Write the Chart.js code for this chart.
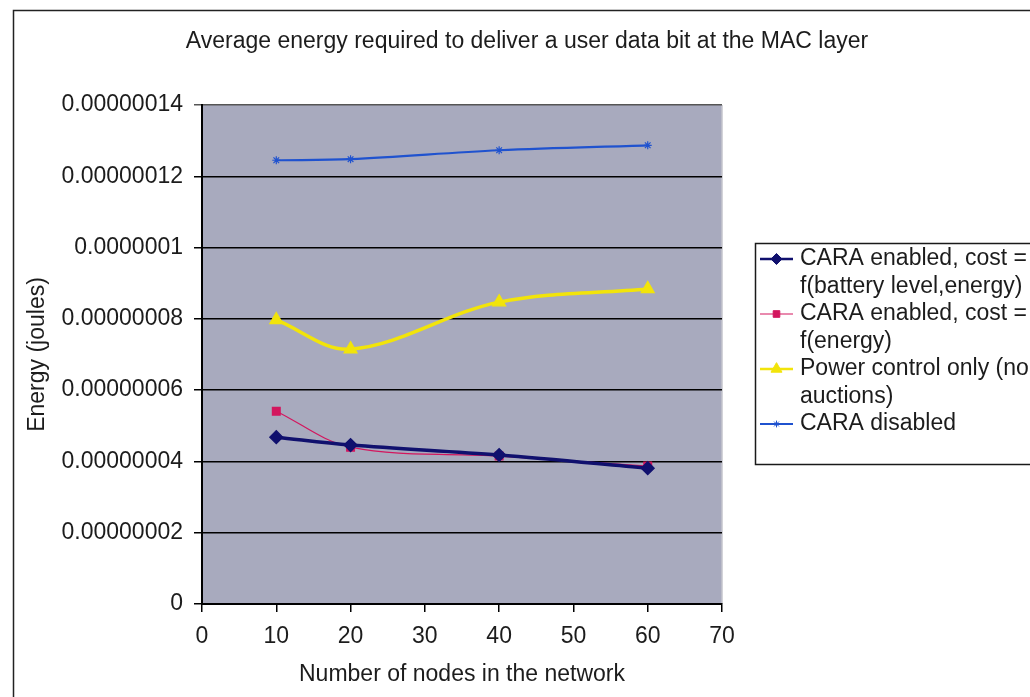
<!DOCTYPE html>
<html>
<head>
<meta charset="utf-8">
<script src="https://cdn.jsdelivr.net/npm/chart.js@4.4.1/dist/chart.umd.min.js"></script>
<style>
  html, body { margin: 0; padding: 0; background: #ffffff; }
  #wrap { width: 1030px; height: 697px; position: relative; }
</style>
</head>
<body>
<div id="wrap"><canvas id="c" width="1030" height="697"></canvas></div>
<script>
// Number of nodes in the network (x values)
const nodeCounts = [10, 20, 40, 60];

// Average energy per delivered user data bit (joules)
const caraBatteryEnergy = [4.68e-8, 4.46e-8, 4.18e-8, 3.81e-8];
const caraEnergy        = [5.41e-8, 4.40e-8, 4.15e-8, 3.87e-8];
const powerControlOnly  = [7.97e-8, 7.15e-8, 8.47e-8, 8.84e-8];
const caraDisabled      = [1.245e-7, 1.248e-7, 1.273e-7, 1.287e-7];

const seriesNames = [
  'CARA enabled, cost = f(battery level,energy)',
  'CARA enabled, cost = f(energy)',
  'Power control only (no auctions)',
  'CARA disabled'
];
const legendLines = [
  ['CARA enabled, cost =', 'f(battery level,energy)'],
  ['CARA enabled, cost =', 'f(energy)'],
  ['Power control only (no', 'auctions)'],
  ['CARA disabled']
];

const yTickLabels = ['0', '0.00000002', '0.00000004', '0.00000006', '0.00000008', '0.0000001', '0.00000012', '0.00000014'];
const xTickLabels = ['0', '10', '20', '30', '40', '50', '60', '70'];

const chartTitle = 'Average energy required to deliver a user data bit at the MAC layer';
const xAxisTitle = 'Number of nodes in the network';
const yAxisTitle = 'Energy (joules)';

const FONT = "'Liberation Sans', Arial, sans-serif";
const FONT_SIZE = 23;
const TEXT = '#1c1c1c';

function pts(values) {
  return nodeCounts.map((x, i) => ({ x: x, y: values[i] }));
}

// Plot background, outer frame and title
const framePlugin = {
  id: 'frame',
  beforeDraw(chart) {
    const { ctx, chartArea: a } = chart;
    ctx.save();
    ctx.fillStyle = '#ffffff';
    ctx.fillRect(0, 0, chart.width, chart.height);
    ctx.fillStyle = '#a8aabe';
    ctx.fillRect(a.left, a.top, a.right - a.left, a.bottom - a.top);
    ctx.strokeStyle = '#c4c4cc';
    ctx.lineWidth = 1.5;
    ctx.beginPath();
    ctx.moveTo(a.right, a.top);
    ctx.lineTo(a.right, a.bottom);
    ctx.stroke();
    ctx.strokeStyle = '#222';
    ctx.lineWidth = 1.5;
    ctx.strokeRect(13.5, 10.5, 1200, 900);
    ctx.fillStyle = TEXT;
    ctx.font = FONT_SIZE + 'px ' + FONT;
    ctx.textAlign = 'center';
    ctx.textBaseline = 'middle';
    ctx.fillText(chartTitle, 527, 42);
    ctx.restore();
  }
};

// Legend box with two-line wrapped entries
const boxLegendPlugin = {
  id: 'boxLegend',
  afterDraw(chart) {
    const { ctx } = chart;
    const left = 755, top = 243, bottom = 464;
    ctx.save();
    ctx.fillStyle = '#ffffff';
    ctx.fillRect(left, top, 400, bottom - top);
    ctx.strokeStyle = '#1a1a1a';
    ctx.lineWidth = 1.5;
    ctx.strokeRect(left + 0.5, top + 0.5, 400, bottom - top);
    const lineH = 27.5;
    let y = 259;
    chart.data.datasets.forEach((ds, i) => {
      ctx.strokeStyle = ds.borderColor;
      ctx.lineWidth = Math.min(ds.borderWidth, 2.5);
      ctx.beginPath();
      ctx.moveTo(760, y);
      ctx.lineTo(793, y);
      ctx.stroke();
      ctx.fillStyle = ds.backgroundColor;
      ctx.lineWidth = 1;
      Chart.helpers.drawPoint(ctx, {
        pointStyle: ds.pointStyle,
        radius: ds.pointRadius * 0.85,
        rotation: 0,
        borderWidth: 1
      }, 776.5, y);
      ctx.fillStyle = TEXT;
      ctx.font = FONT_SIZE + 'px ' + FONT;
      ctx.textAlign = 'left';
      ctx.textBaseline = 'middle';
      legendLines[i].forEach((t, k) => ctx.fillText(t, 800, y + k * lineH));
      y += legendLines[i].length * lineH;
    });
    ctx.restore();
  }
};

const series = [
  { label: seriesNames[0], data: pts(caraBatteryEnergy), borderColor: '#10106e', backgroundColor: '#10106e',
    borderWidth: 3.5, pointStyle: 'rectRot', pointRadius: 6.5 },
  { label: seriesNames[1], data: pts(caraEnergy), borderColor: '#d3165e', backgroundColor: '#d3165e',
    borderWidth: 1.2, pointStyle: 'rect', pointRadius: 5.5 },
  { label: seriesNames[2], data: pts(powerControlOnly), borderColor: '#f2e40a', backgroundColor: '#f2e40a',
    borderWidth: 3.5, pointStyle: 'triangle', pointRadius: 7.5 },
  { label: seriesNames[3], data: pts(caraDisabled), borderColor: '#1f52cf', backgroundColor: '#1f52cf',
    borderWidth: 2.2, pointStyle: 'star', pointRadius: 4 }
];

new Chart(document.getElementById('c'), {
  type: 'line',
  data: {
    datasets: series.map(s => Object.assign({
      tension: 0.35,
      fill: false,
      pointBorderColor: s.borderColor,
      pointBorderWidth: 1.2
    }, s))
  },
  options: {
    responsive: false,
    animation: false,
    devicePixelRatio: 1,
    layout: { padding: { top: 105, right: 308, left: 0, bottom: 0 } },
    plugins: {
      legend: { display: false },
      title: { display: false },
      tooltip: { enabled: false }
    },
    scales: {
      x: {
        type: 'linear',
        min: 0, max: 70,
        afterFit: s => { s.height = 93; },
        ticks: {
          stepSize: 10,
          callback: v => xTickLabels[Math.round(v / 10)],
          color: TEXT, font: { family: FONT, size: FONT_SIZE }, padding: 11, maxRotation: 0
        },
        grid: { drawOnChartArea: false, color: '#000', tickLength: 8, lineWidth: 1.5 },
        border: { color: '#000', width: 2 },
        title: { display: true, text: xAxisTitle, color: TEXT, font: { family: FONT, size: FONT_SIZE }, padding: { top: 0, bottom: 9 } }
      },
      y: {
        type: 'linear',
        min: 0, max: 1.4e-7,
        afterFit: s => { s.width = 202; },
        ticks: {
          stepSize: 2e-8,
          callback: v => yTickLabels[Math.round(v / 2e-8)],
          color: TEXT, font: { family: FONT, size: FONT_SIZE }, padding: 11
        },
        grid: {
          color: c => (c.tick && Math.round(c.tick.value / 2e-8) === 7) ? '#555' : '#000',
          lineWidth: 1.5, tickLength: 8
        },
        border: { color: '#000', width: 2 },
        title: { display: true, text: yAxisTitle, color: TEXT, font: { family: FONT, size: FONT_SIZE }, padding: { top: 24, bottom: 0 } }
      }
    }
  },
  plugins: [framePlugin, boxLegendPlugin]
});
</script>
</body>
</html>
